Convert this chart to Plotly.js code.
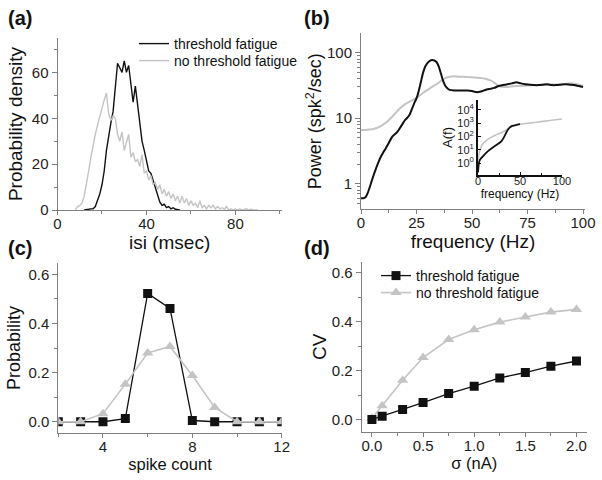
<!DOCTYPE html>
<html>
<head>
<meta charset="utf-8">
<script src="https://cdn.plot.ly/plotly-3.0.1.min.js"></script>
<style>html,body{margin:0;padding:0;background:#fff;}#chart{width:602px;height:480px;}</style>
</head>
<body>
<div id="chart"></div>
<script>
// ---------- Panel (a): ISI histograms ----------
const isiFatigueX = [12,13,14,15,16,17,18,19,20,21,22,23,24,25,26,27,28,29,30,31,32,33,34,35,36,37,38,39,40,41,42,43,44,45,46,47,48,49,50,51,52,53,54,55];
const isiFatigueY = [0,0.3,0.3,0.5,0.5,1.5,4,7,11,17,26,33,38,43,52,64,62,60,65,60,63,55,47,54,45,37,30,26,21,17,16,13,10,7,3.5,2,2.5,1,1.5,0.5,1,0.3,0,0];
const isiNoFatigueX = [8,9,10,11,12,13,14,15,16,17,18,19,20,21,22,23,24,25,26,27,28,29,30,31,32,33,34,35,36,37,38,39,40,41,42,43,44,45,46,47,48,49,50,51,52,53,54,55,56,57,58,59,60,61,62,63,64,65,66,67,68,69,70,71,72,73,74,75,76,77,78,79,80,81,82,83,84,85,86,87,88,89,90];
const isiNoFatigueY = [0,1.5,2,3,6,11,17,23,29,33,37,41,45,48,51,42,39,41,40,33,30,34,26,29,33,23,25,21,22,19,24,16,17,13,15,11,12,9,11,7,9,6,8,5,7,4,6,3,6,3,5,2,4,2,3,1,4,1,2,0.5,2,1,2,0.5,1.5,0.5,1,0.3,1.5,0,0.5,0,0.5,0,0.5,0,0.3,0.5,0,0.3,0,0,0];

// ---------- Panel (b): power spectra ----------
const psdFatigueF = [0,1,2,3,4,5,6,7,8,9,10,11,12,13,14,15,16,17,18,19,20,21,22,23,24,25,26,27,28,29,30,31,32,33,34,35,36,37,38,39,40,42,44,46,48,50,52,54,56,58,60,62,64,66,68,70,72,74,76,78,80,82,84,86,88,90,92,94,96,98,100];
const psdFatigueP = [0.6,0.6,0.62,0.72,0.9,1.15,1.45,1.8,2.2,2.6,3.0,3.4,3.9,4.5,5.2,5.6,6.0,6.6,7.5,8.5,9.5,10.3,11.5,14,17,20,26,36,50,62,70,75,77,76,72,62,48,37,31,28.5,27,26.5,26.5,26.5,26.5,26,25,25.5,27,28,29,31,32,33,34,35.5,34,33,32.5,32,32,32.5,33,32,32,32.5,33,32.5,32,31,30];
const psdNoFatigueF = [0,2,4,6,8,10,12,14,16,18,20,22,24,26,28,30,32,34,36,38,40,42,44,46,48,50,52,54,56,58,60,62,64,66,68,70,75,80,85,90,95,100];
const psdNoFatigueP = [6.6,6.6,6.7,6.9,7.3,8.0,9.0,10.5,12.5,14.5,16.5,18,19.5,21.5,24.5,27,30,33,37,41,43,43.5,43,43,42.5,42,41.5,41,40,38,35,31,30,30,30.5,31,31.5,32,32.5,33,34,31];

// ---------- Inset: A(f) ----------
const aFatigueF = [0,1,2,3,5,8,10,13,16,20,24,28,31,34,36,38,40,45,50];
const aFatigueA = [0.2,0.9,1.6,2.0,2.8,4.5,6,9,12.5,19,28,45,90,220,350,480,600,720,850];
const aNoFatigueF = [0,1,2,3,5,8,10,13,16,20,24,28,31,34,36,38,40,45,50,60,70,80,90,100];
const aNoFatigueA = [1.5,4,8,12,25,40,52,70,90,120,155,200,250,330,400,500,600,720,850,1000,1200,1450,1750,2100];
const insetTickVals = [1,10,100,1000,10000];
const insetTickText = ['10<sup>0</sup>','10<sup>1</sup>','10<sup>2</sup>','10<sup>3</sup>','10<sup>4</sup>'];

// ---------- Panel (c): spike count distribution ----------
const spikeCount = [2,3,4,5,6,7,8,9,10,11,12];
const countFatigue = [0,0,0,0.013,0.522,0.461,0.005,0,0,0,0];
const countNoFatigue = [0,0,0.033,0.153,0.28,0.306,0.188,0.058,0,0,0];

// ---------- Panel (d): CV vs sigma ----------
const sigma = [0,0.1,0.3,0.5,0.75,1.0,1.25,1.5,1.75,2.0];
const cvFatigue = [0,0.013,0.041,0.069,0.106,0.136,0.17,0.192,0.218,0.239];
const cvNoFatigue = [0.005,0.056,0.16,0.253,0.327,0.367,0.398,0.419,0.439,0.45];

const FONT = 'Liberation Sans, Arial, Helvetica, sans-serif';
const BLACK = '#111111';
const GRAY = '#c4c4c4';
const AXC = '#808080';
const W = 602, H = 480;
const px = v => v / W;
const py = v => 1 - v / H;

function ax(extra) {
  return Object.assign({
    showline: true, linecolor: AXC, linewidth: 1,
    ticks: 'outside', ticklen: 5, tickcolor: AXC, tickwidth: 1,
    showgrid: false, zeroline: false, mirror: false, fixedrange: true,
    tickfont: {family: FONT, size: 15, color: '#222'}
  }, extra);
}
function minor(d) { return {ticks: 'outside', ticklen: 3, tickcolor: AXC, dtick: d, showgrid: false}; }

const traces = [
  {x: isiFatigueX, y: isiFatigueY, xaxis: 'x', yaxis: 'y', mode: 'lines', name: 'threshold fatigue',
   line: {color: BLACK, width: 1.4}, legend: 'legend'},
  {x: isiNoFatigueX, y: isiNoFatigueY, xaxis: 'x', yaxis: 'y', mode: 'lines', name: 'no threshold fatigue',
   line: {color: GRAY, width: 1.4}, legend: 'legend3'},

  {x: psdNoFatigueF, y: psdNoFatigueP, xaxis: 'x2', yaxis: 'y2', mode: 'lines', showlegend: false,
   line: {color: GRAY, width: 2, shape: 'spline', smoothing: 0.6}},
  {x: psdFatigueF, y: psdFatigueP, xaxis: 'x2', yaxis: 'y2', mode: 'lines', showlegend: false,
   line: {color: BLACK, width: 2, shape: 'spline', smoothing: 0.6}},

  {x: aNoFatigueF, y: aNoFatigueA, xaxis: 'x5', yaxis: 'y5', mode: 'lines', showlegend: false,
   line: {color: GRAY, width: 1.6, shape: 'spline', smoothing: 0.6}},
  {x: aFatigueF, y: aFatigueA, xaxis: 'x5', yaxis: 'y5', mode: 'lines', showlegend: false,
   line: {color: BLACK, width: 1.8, shape: 'spline', smoothing: 0.6}},

  {x: spikeCount, y: countFatigue, xaxis: 'x3', yaxis: 'y3', mode: 'lines+markers', showlegend: false,
   line: {color: BLACK, width: 1.3}, marker: {symbol: 'square', size: 9, color: BLACK}},
  {x: spikeCount, y: countNoFatigue, xaxis: 'x3', yaxis: 'y3', mode: 'lines+markers', showlegend: false,
   line: {color: GRAY, width: 1.6}, marker: {symbol: 'triangle-up', size: 10, color: GRAY}},

  {x: sigma, y: cvNoFatigue, xaxis: 'x4', yaxis: 'y4', mode: 'lines+markers', name: 'no threshold fatigue',
   line: {color: GRAY, width: 1.6}, marker: {symbol: 'triangle-up', size: 10, color: GRAY}, legend: 'legend4'},
  {x: sigma, y: cvFatigue, xaxis: 'x4', yaxis: 'y4', mode: 'lines+markers', name: 'threshold fatigue',
   line: {color: BLACK, width: 1.3}, marker: {symbol: 'square', size: 9, color: BLACK}, legend: 'legend2'}
];

const titleFont = s => ({family: FONT, size: s, color: '#111'});
function leg(xp, yp) {
  return {x: px(xp), y: py(yp), xanchor: 'left', yanchor: 'top', bgcolor: 'rgba(0,0,0,0)',
          font: {family: FONT, size: 14, color: '#111'}, itemwidth: 30, tracegroupgap: 0};
}

const layout = {
  width: W, height: H,
  margin: {l: 0, r: 0, t: 0, b: 0},
  paper_bgcolor: '#fff', plot_bgcolor: 'rgba(0,0,0,0)',
  font: {family: FONT, color: '#111'},
  xaxis: ax({domain: [px(57.5), px(281.7)], range: [0, 100.8], anchor: 'y', dtick: 40, tick0: 0, minor: minor(20),
             ticklen: 4, ticklabelstandoff: -4,
             title: {text: 'isi (msec)', font: titleFont(19), standoff: 3}}),
  yaxis: ax({domain: [py(210), py(38)], range: [0, 75], anchor: 'x', dtick: 20, tick0: 0, minor: minor(10),
             title: {text: 'Probability density', font: titleFont(19), standoff: 4}}),
  xaxis2: ax({domain: [px(361), px(585)], range: [0, 100.9], anchor: 'y2', dtick: 25, tick0: 0, minor: minor(12.5),
              ticklen: 4, ticklabelstandoff: -4,
              title: {text: 'frequency (Hz)', font: titleFont(19), standoff: 3}}),
  yaxis2: ax({domain: [py(209.3), py(33)], type: 'log', range: [-0.39, 2.30], anchor: 'x2',
              tickvals: [1, 10, 100], ticktext: ['1', '10', '100'],
              minor: {ticks: 'outside', ticklen: 3, tickcolor: AXC, tickvals: [0.5,0.6,0.7,0.8,0.9,2,3,4,5,6,7,8,9,20,30,40,50,60,70,80,90,200]},
              title: {text: 'Power (spk<sup>2</sup>/sec)', font: titleFont(18), standoff: 0}}),
  xaxis3: ax({domain: [px(58.3), px(281.7)], range: [2, 12], anchor: 'y3', dtick: 4, tick0: 0, minor: minor(2),
              ticklen: 4, ticklabelstandoff: -4,
              title: {text: 'spike count', font: titleFont(16.5), standoff: 3}}),
  yaxis3: ax({domain: [py(433.3), py(262.7)], range: [-0.047, 0.647], anchor: 'x3', dtick: 0.2, tick0: 0, tickformat: '.1f', minor: minor(0.1),
              title: {text: 'Probability', font: titleFont(18), standoff: 3}}),
  xaxis4: ax({domain: [px(361.7), px(586.7)], range: [-0.1, 2.1], anchor: 'y4', dtick: 0.5, tick0: 0, tickformat: '.1f', minor: minor(0.25),
              ticklen: 4, ticklabelstandoff: -4,
              title: {text: 'σ (nA)', font: titleFont(16.5), standoff: 2}}),
  yaxis4: ax({domain: [py(431.7), py(261.7)], range: [-0.05, 0.645], anchor: 'x4', dtick: 0.2, tick0: 0, tickformat: '.1f', minor: minor(0.1),
              title: {text: 'CV', font: titleFont(19), standoff: 0}}),
  xaxis5: ax({domain: [px(478), px(562)], range: [0, 100], anchor: 'y5', dtick: 50, tick0: 0, linecolor: '#111', linewidth: 1.5,
              ticks: 'inside', tickcolor: '#111', ticklen: 3, minor: {ticks: 'inside', ticklen: 2, tickcolor: '#111', dtick: 25},
              tickfont: {family: FONT, size: 11, color: '#222'}, ticklabelstandoff: -5,
              title: {text: 'frequency (Hz)', font: titleFont(12), standoff: 0}}),
  yaxis5: ax({domain: [py(175), py(100)], type: 'log', range: [-0.9, 4.75], anchor: 'x5', linecolor: '#111', linewidth: 2,
              ticks: 'inside', tickcolor: '#111', ticklen: 3, tickvals: insetTickVals, ticktext: insetTickText,
              tickfont: {family: FONT, size: 11, color: '#222'},
              title: {text: 'A(f)', font: titleFont(13), standoff: 2}}),
  legend: leg(134, 28),
  legend3: leg(134, 45),
  legend2: leg(376, 260),
  legend4: leg(376, 277),
  annotations: [
    {text: '<b>(a)</b>', x: px(6), y: py(18), xref: 'paper', yref: 'paper', xanchor: 'left', yanchor: 'middle', showarrow: false, font: {family: FONT, size: 20, color: '#111'}},
    {text: '<b>(b)</b>', x: px(302), y: py(18), xref: 'paper', yref: 'paper', xanchor: 'left', yanchor: 'middle', showarrow: false, font: {family: FONT, size: 20, color: '#111'}},
    {text: '<b>(c)</b>', x: px(6), y: py(248), xref: 'paper', yref: 'paper', xanchor: 'left', yanchor: 'middle', showarrow: false, font: {family: FONT, size: 20, color: '#111'}},
    {text: '<b>(d)</b>', x: px(302), y: py(248), xref: 'paper', yref: 'paper', xanchor: 'left', yanchor: 'middle', showarrow: false, font: {family: FONT, size: 20, color: '#111'}}
  ]
};

Plotly.newPlot('chart', traces, layout, {displayModeBar: false, staticPlot: true});
</script>
</body>
</html>
